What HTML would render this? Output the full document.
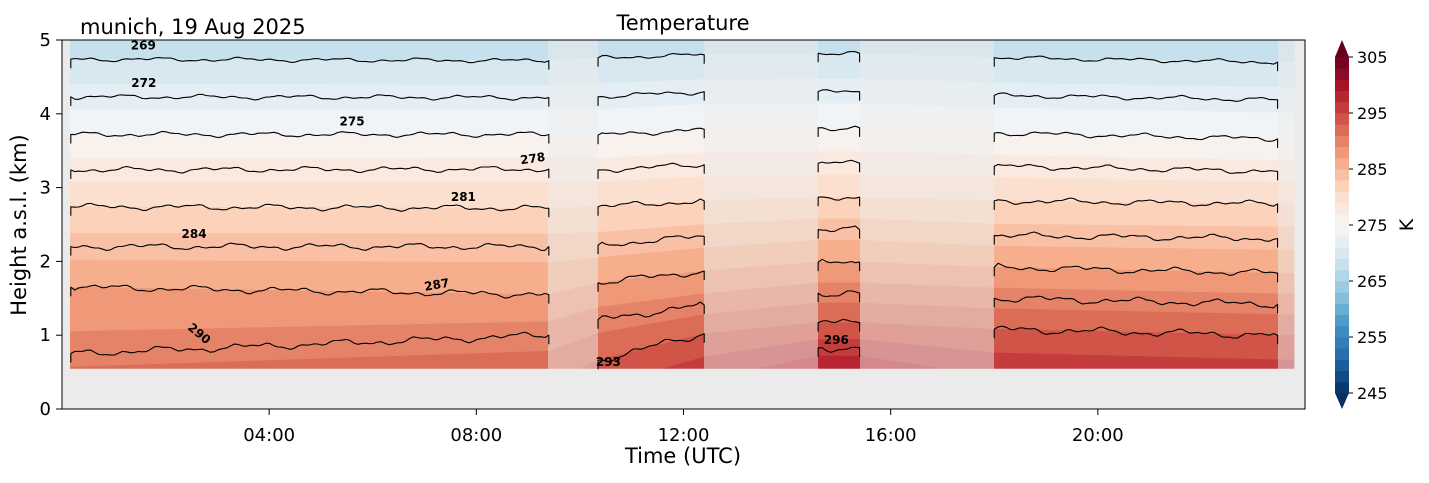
<!DOCTYPE html>
<html><head><meta charset="utf-8">
<style>
body{margin:0;background:#fff;font-family:"Liberation Sans","DejaVu Sans",sans-serif;}
svg text{font-family:"DejaVu Sans","Liberation Sans",sans-serif;}
</style></head>
<body>
<svg id="chart" width="1429" height="478" xmlns="http://www.w3.org/2000/svg">
<rect x="0" y="0" width="1429" height="478" fill="#fff"/>
<rect x="62" y="40" width="1243" height="369" fill="#ebebeb"/>
<g id="fills"></g>
<g id="lines"></g>
<g id="labels"></g>
<rect x="62" y="40" width="1243" height="369" fill="none" stroke="#000" stroke-width="1"/>
<g id="axes"></g>
<text x="683" y="30" font-size="21" text-anchor="middle">Temperature</text>
<text x="80" y="34" font-size="21">munich, 19 Aug 2025</text>
<text x="683" y="463" font-size="21" text-anchor="middle">Time (UTC)</text>
<text x="26" y="225" font-size="21" text-anchor="middle" transform="rotate(-90 26 225)">Height a.s.l. (km)</text>
<g id="cbar"></g>
<text x="1413" y="225" font-size="19" text-anchor="middle" transform="rotate(-90 1413 225)">K</text>
</svg>
<script>
// ---- data ----
const levels = [269, 272, 275, 278, 281, 284, 287, 290, 293, 296];
const segStart = [0.17, 10.35, 14.6, 18.0];
const segEnd = [9.4, 12.4, 15.4, 23.47];
const hStart0 = [4.74, 4.23, 3.72, 3.24, 2.74, 2.20, 1.65, 0.75, 0.2, -0.4];
const hEnd0   = [4.72, 4.22, 3.72, 3.25, 2.72, 2.20, 1.55, 1.00, 0.35, -0.3];
const hStart1 = [4.76, 4.23, 3.71, 3.24, 2.74, 2.22, 1.71, 1.21, 0.66, 0.10];
const hEnd1   = [4.80, 4.30, 3.79, 3.31, 2.82, 2.34, 1.87, 1.41, 1.02, 0.55];
const hStart2 = [4.82, 4.30, 3.81, 3.33, 2.87, 2.43, 1.99, 1.57, 1.17, 0.83];
const hEnd2   = [4.82, 4.30, 3.81, 3.33, 2.87, 2.43, 1.99, 1.57, 1.17, 0.83];
const hStart3 = [4.76, 4.25, 3.74, 3.29, 2.82, 2.35, 1.92, 1.50, 1.08, 0.60];
const hEnd3   = [4.70, 4.19, 3.66, 3.22, 2.78, 2.31, 1.84, 1.42, 1.00, 0.50];
const hStarts = [hStart0, hStart1, hStart2, hStart3];
const hEnds = [hEnd0, hEnd1, hEnd2, hEnd3];
const dataBottom = 0.55, dataTop = 5.0, gapEnd = 23.8;
const xTickLabels = ["04:00", "08:00", "12:00", "16:00", "20:00"];
const xTickHours = [4, 8, 12, 16, 20];
const yTicks = [0, 1, 2, 3, 4, 5];
const cbTicks = [245, 255, 265, 275, 285, 295, 305];
const contourLabels = [["269",1.57,4.87,0],["272",1.58,4.36,0],["275",5.6,3.84,0],["278",9.1,3.34,-8],["281",7.75,2.82,0],["284",2.55,2.32,0],["287",7.25,1.63,-10],["290",2.6,0.98,40],["293",10.55,0.58,0],["296",14.95,0.88,0]];
// ---- scales ----
const X0=62, X1=1305, Y0=409, Y1=40;
const xs = h => X0 + (X1-X0)*h/24;
const ys = k => Y0 - (Y0-Y1)*k/5;
const NS="http://www.w3.org/2000/svg";
function el(t,a,p){const e=document.createElementNS(NS,t);for(const k in a)e.setAttribute(k,a[k]);p.appendChild(e);return e;}
const anchors=[[5,48,97],[33,102,172],[67,147,195],[146,197,222],[209,229,240],[247,247,247],[253,219,199],[244,165,130],[214,96,77],[178,24,43],[103,0,31]];
function cmap(v){v=Math.max(0,Math.min(1,v))*10;const i=Math.min(9,Math.floor(v)),f=v-i,a=anchors[i],b=anchors[i+1];
 return [0,1,2].map(j=>Math.round(a[j]+(b[j]-a[j])*f));}
function rgb(c){return "rgb("+c.join(",")+")";}
function bandColor(L){return cmap((L+1-245)/60);}
function Tat(hs,h){
 const n=levels.length;
 for(let i=0;i<n-1;i++){const a=hs[i],b=hs[i+1];if(h<=a&&h>=b)return levels[i]+(levels[i+1]-levels[i])*(a-h)/(a-b);}
 if(h>hs[0])return levels[0]+(levels[1]-levels[0])*(hs[0]-h)/(hs[0]-hs[1]);
 return levels[n-1]+(levels[n-1]-levels[n-2])*(hs[n-1]-h)/(hs[n-2]-hs[n-1]);
}
function hAt(hs,T){
 const n=levels.length;
 for(let i=0;i<n-1;i++){if(T>=levels[i]&&T<=levels[i+1])return hs[i]+(hs[i+1]-hs[i])*(T-levels[i])/(levels[i+1]-levels[i]);}
 if(T<levels[0])return hs[0]+(hs[0]-hs[1])*(levels[0]-T)/(levels[1]-levels[0]);
 return hs[n-1]-(hs[n-2]-hs[n-1])*(T-levels[n-1])/(levels[n-1]-levels[n-2]);
}
function lerpArr(a,b,f){return a.map((v,i)=>v+(b[i]-v)*f);}
function profileAt(t){
 for(let s=0;s<segStart.length;s++){
  if(t>=segStart[s]&&t<=segEnd[s])return {hs:lerpArr(hStarts[s],hEnds[s],(t-segStart[s])/(segEnd[s]-segStart[s])),solid:true};
  if(s<segStart.length-1&&t>segEnd[s]&&t<segStart[s+1])return {hs:lerpArr(hEnds[s],hStarts[s+1],(t-segEnd[s])/(segStart[s+1]-segEnd[s])),solid:false};
 }
 if(t>segEnd[segEnd.length-1]&&t<=gapEnd)return {hs:hEnds[hEnds.length-1],solid:false};
 return null;
}
// ---- fills ----
const fills=document.getElementById('fills');
const bg=[235,235,235];
const step=2;
for(let px=Math.floor(xs(segStart[0]));px<xs(gapEnd);px+=step){
 const t=(px+step/2-X0)*24/(X1-X0);
 const p=profileAt(t); if(!p)continue;
 const Tb=Tat(p.hs,dataBottom), Tt=Tat(p.hs,dataTop);
 let L=Math.floor(Tt/2)*2+1; if(L>Tt)L-=2;
 for(;L<Tb;L+=2){
  const hTop=Math.min(dataTop,hAt(p.hs,L)), hBot=Math.max(dataBottom,hAt(p.hs,L+2));
  if(hTop<=hBot)continue;
  let c=bandColor(L); if(!p.solid)c=c.map((v,j)=>Math.round(v*0.5+bg[j]*0.5));
  const r=el('rect',{x:px,y:ys(hTop)-0.3,width:step+0.4,height:ys(hBot)-ys(hTop)+0.6,fill:rgb(c)},fills);
  
  
 }
}
// ---- contour lines ----
const lines=document.getElementById('lines');
function wig(x){return 1.3*Math.sin(x*0.071)+0.9*Math.sin(x*0.173+1.3)+0.5*Math.sin(x*0.39+0.4);}
for(let s=0;s<segStart.length;s++){
 for(let i=0;i<levels.length;i++){
  const a=hStarts[s][i],b=hEnds[s][i];
  if(Math.min(a,b)<dataBottom||Math.max(a,b)>dataTop)continue;
  const x0=xs(segStart[s]),x1=xs(segEnd[s]);
  let d="M"+x0+","+(ys(a)+9)+" L"+x0+","+ys(a);
  const n=Math.max(2,Math.round((x1-x0)/4));
  for(let k=1;k<=n;k++){const f=k/n;const x=x0+(x1-x0)*f;const w=(k<n)?wig(x+i*37)*(1+i*0.1):0;d+=" L"+x.toFixed(1)+","+(ys(a+(b-a)*f)+w).toFixed(1);}
  d+=" L"+x1+","+(ys(b)+9);
  const pth=el('path',{d:d,fill:"none",stroke:"#000","stroke-width":1.1,"stroke-linejoin":"round"},lines);
  
  
 }
}
// ---- contour labels ----
const lab=document.getElementById('labels');
contourLabels.forEach(c=>{
 const x=xs(c[1]),y=ys(c[2]);
 const t=el('text',{x:x,y:y,"font-size":12,"font-weight":"bold","text-anchor":"middle",transform:"rotate("+c[3]+" "+x+" "+y+")"},lab);
 t.textContent=c[0];
 
 
});
// ---- axes ----
const ax=document.getElementById('axes');
xTickHours.forEach((h,i)=>{
 el('line',{x1:xs(h),x2:xs(h),y1:409,y2:415,stroke:"#000"},ax);
 const t=el('text',{x:xs(h),y:441,"font-size":18,"text-anchor":"middle"},ax);
 t.textContent=xTickLabels[i];
 
 
});
yTicks.forEach(v=>{
 el('line',{x1:56,x2:62,y1:ys(v),y2:ys(v),stroke:"#000"},ax);
 const t=el('text',{x:51,y:ys(v)+6,"font-size":18,"text-anchor":"end"},ax);
 t.textContent=String(v);
 
 
});
// ---- colorbar ----
const cb=document.getElementById('cbar');
const CX=1335,CW=14,CT=57,CB=393;
const cy=v=>CB-(CB-CT)*(v-245)/60;
for(let L=245;L<305;L+=2){
 const r=el('rect',{x:CX,y:cy(L+2),width:CW,height:cy(L)-cy(L+2)+0.4,fill:rgb(bandColor(L))},cb);
 
 
}
el('polygon',{points:`${CX},${CT} ${CX+CW/2},40 ${CX+CW},${CT}`,fill:rgb(cmap(1))},cb);
el('polygon',{points:`${CX},${CB} ${CX+CW/2},409 ${CX+CW},${CB}`,fill:rgb(cmap(0))},cb);
cbTicks.forEach(v=>{
 el('line',{x1:CX+CW,x2:CX+CW+4,y1:cy(v),y2:cy(v),stroke:"#000"},cb);
 const t=el('text',{x:CX+CW+8,y:cy(v)+6,"font-size":16},cb);
 t.textContent=String(v);
 
 
});
</script>
</body></html>
